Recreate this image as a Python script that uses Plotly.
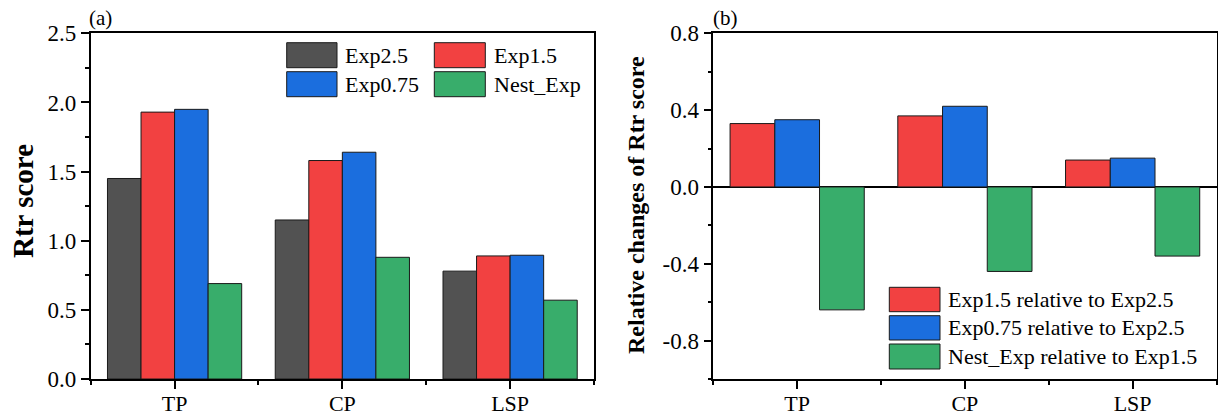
import plotly.graph_objects as go

categories = ["TP", "CP", "LSP"]

# Panel (a): Rtr score
series_a = ["Exp2.5", "Exp1.5", "Exp0.75", "Nest_Exp"]
exp25 = [1.45, 1.15, 0.78]
exp15 = [1.93, 1.58, 0.89]
exp075 = [1.95, 1.64, 0.895]
nest = [0.69, 0.88, 0.57]

# Panel (b): relative changes
series_b = ["Exp1.5 relative to Exp2.5", "Exp0.75 relative to Exp2.5", "Nest_Exp relative to Exp1.5"]
rel15 = [0.33, 0.37, 0.14]
rel075 = [0.35, 0.42, 0.15]
relnest = [-0.64, -0.44, -0.36]

yticks_b = [-0.8, -0.4, 0.0, 0.4, 0.8]
yticktext_b = ["-0.8", "-0.4", "0.0", "0.4", "0.8"]

colors_a = ["#525252", "#F24141", "#1B6EDE", "#38AD6B"]
colors_b = ["#F24141", "#1B6EDE", "#38AD6B"]

W, H = 1218, 419
FONT = "Liberation Serif"

xpos = list(range(len(categories)))

fig = go.Figure()
for name, vals, col in zip(series_a, [exp25, exp15, exp075, nest], colors_a):
    fig.add_trace(go.Bar(x=xpos, y=vals, name=name, marker=dict(color=col, line=dict(color="#1a1a1a", width=1)),
                         xaxis="x", yaxis="y", showlegend=False, offsetgroup=name))
for name, vals, col in zip(series_b, [rel15, rel075, relnest], colors_b):
    fig.add_trace(go.Bar(x=xpos, y=vals, name=name, marker=dict(color=col, line=dict(color="#1a1a1a", width=1)),
                         xaxis="x2", yaxis="y2", showlegend=False, offsetgroup=name))

def px(x):
    return x / W

def py(y):
    return 1 - y / H

ydom = [py(379), py(33.3)]
tickfont = dict(family=FONT, size=23, color="black")
xtickfont = dict(family=FONT, size=22, color="black")

common_x = dict(range=[-0.5, 2.5], tickvals=xpos, ticktext=categories, ticks="outside", ticklen=8,
                tickwidth=1.5, tickcolor="black", showline=True, linecolor="black", linewidth=2, mirror=True,
                showgrid=False, zeroline=False, tickfont=xtickfont, automargin=False, ticklabelstandoff=-4,
                minor=dict(tickmode="linear", tick0=-0.5, dtick=1, ticks="outside", ticklen=4, tickwidth=1.5, tickcolor="black", showgrid=False))

fig.update_layout(
    template="none",
    width=W, height=H, margin=dict(l=0, r=0, t=0, b=0),
    paper_bgcolor="white", plot_bgcolor="white",
    barmode="group", bargap=0.2, bargroupgap=0,
    font=dict(family=FONT, color="black"),
    xaxis=dict(domain=[px(90.7), px(594)], anchor="y", **common_x),
    yaxis=dict(domain=ydom, anchor="x", range=[0, 2.5], dtick=0.5, tick0=0, tickformat=".1f",
               ticks="outside", ticklen=8, tickwidth=1.5, tickcolor="black", automargin=False,
               showline=True, linecolor="black", linewidth=1.5, mirror=True, showgrid=False, zeroline=False,
               tickfont=tickfont,
               minor=dict(dtick=0.25, tick0=0, ticks="outside", ticklen=4, tickwidth=1.5, tickcolor="black", showgrid=False)),
    xaxis2=dict(domain=[px(713.3), px(1216.5)], anchor="y2", **common_x),
    yaxis2=dict(domain=ydom, anchor="x2", range=[-1.0, 0.8], tickvals=yticks_b, ticktext=yticktext_b,
                ticks="outside", ticklen=8, tickwidth=1.5, tickcolor="black", automargin=False,
                showline=True, linecolor="black", linewidth=1.5, mirror=True, showgrid=False,
                zeroline=True, zerolinecolor="black", zerolinewidth=2,
                tickfont=tickfont,
                minor=dict(tickmode="linear", dtick=0.2, tick0=0, ticks="outside", ticklen=4, tickwidth=1.5, tickcolor="black", showgrid=False)),
)

shapes = []
annots = []

# Axis titles
annots.append(dict(x=px(23), y=py(201), xref="paper", yref="paper", text="<b>Rtr score</b>", textangle=-90,
                   showarrow=False, xanchor="center", yanchor="middle", font=dict(family=FONT, size=29, color="black")))
annots.append(dict(x=px(636), y=py(205), xref="paper", yref="paper", text="<b>Relative changes of Rtr score</b>", textangle=-90,
                   showarrow=False, xanchor="center", yanchor="middle", font=dict(family=FONT, size=24, color="black")))
# Panel labels
annots.append(dict(x=px(87), y=py(18), xref="paper", yref="paper", text="(a)", showarrow=False,
                   xanchor="left", yanchor="middle", font=dict(family=FONT, size=21, color="black")))
annots.append(dict(x=px(711), y=py(18), xref="paper", yref="paper", text="(b)", showarrow=False,
                   xanchor="left", yanchor="middle", font=dict(family=FONT, size=21, color="black")))

# Legend (a): 2 columns
leg_a = [(286.7, 337, 42.7, 67.7, 343), (434.3, 485.3, 42.7, 67.7, 491.7),
         (286.7, 337, 71.7, 96.7, 343), (434.3, 485.3, 71.7, 96.7, 491.7)]
order_a = [0, 1, 2, 3]
for (x0, x1, y0, y1, tx), i in zip(leg_a, order_a):
    shapes.append(dict(type="rect", xref="paper", yref="paper", x0=px(x0), x1=px(x1), y0=py(y1), y1=py(y0),
                       fillcolor=colors_a[i], line=dict(color="#1a1a1a", width=1)))
    annots.append(dict(x=px(tx), y=py((y0 + y1) / 2), xref="paper", yref="paper", text=series_a[i], showarrow=False,
                       xanchor="left", yanchor="middle", font=dict(family=FONT, size=22, color="black")))

# Legend (b)
leg_b = [(287.3, 311.7), (315.7, 340), (344, 369)]
for i, (y0, y1) in enumerate(leg_b):
    shapes.append(dict(type="rect", xref="paper", yref="paper", x0=px(889.3), x1=px(940), y0=py(y1), y1=py(y0),
                       fillcolor=colors_b[i], line=dict(color="#1a1a1a", width=1)))
    annots.append(dict(x=px(946), y=py((y0 + y1) / 2), xref="paper", yref="paper", text=series_b[i], showarrow=False,
                       xanchor="left", yanchor="middle", font=dict(family=FONT, size=22, color="black")))

fig.update_layout(shapes=shapes, annotations=annots)
fig.write_html("out.html", config={"displayModeBar": False},
               post_script="document.body.style.margin='0';document.body.style.overflow='hidden';")
